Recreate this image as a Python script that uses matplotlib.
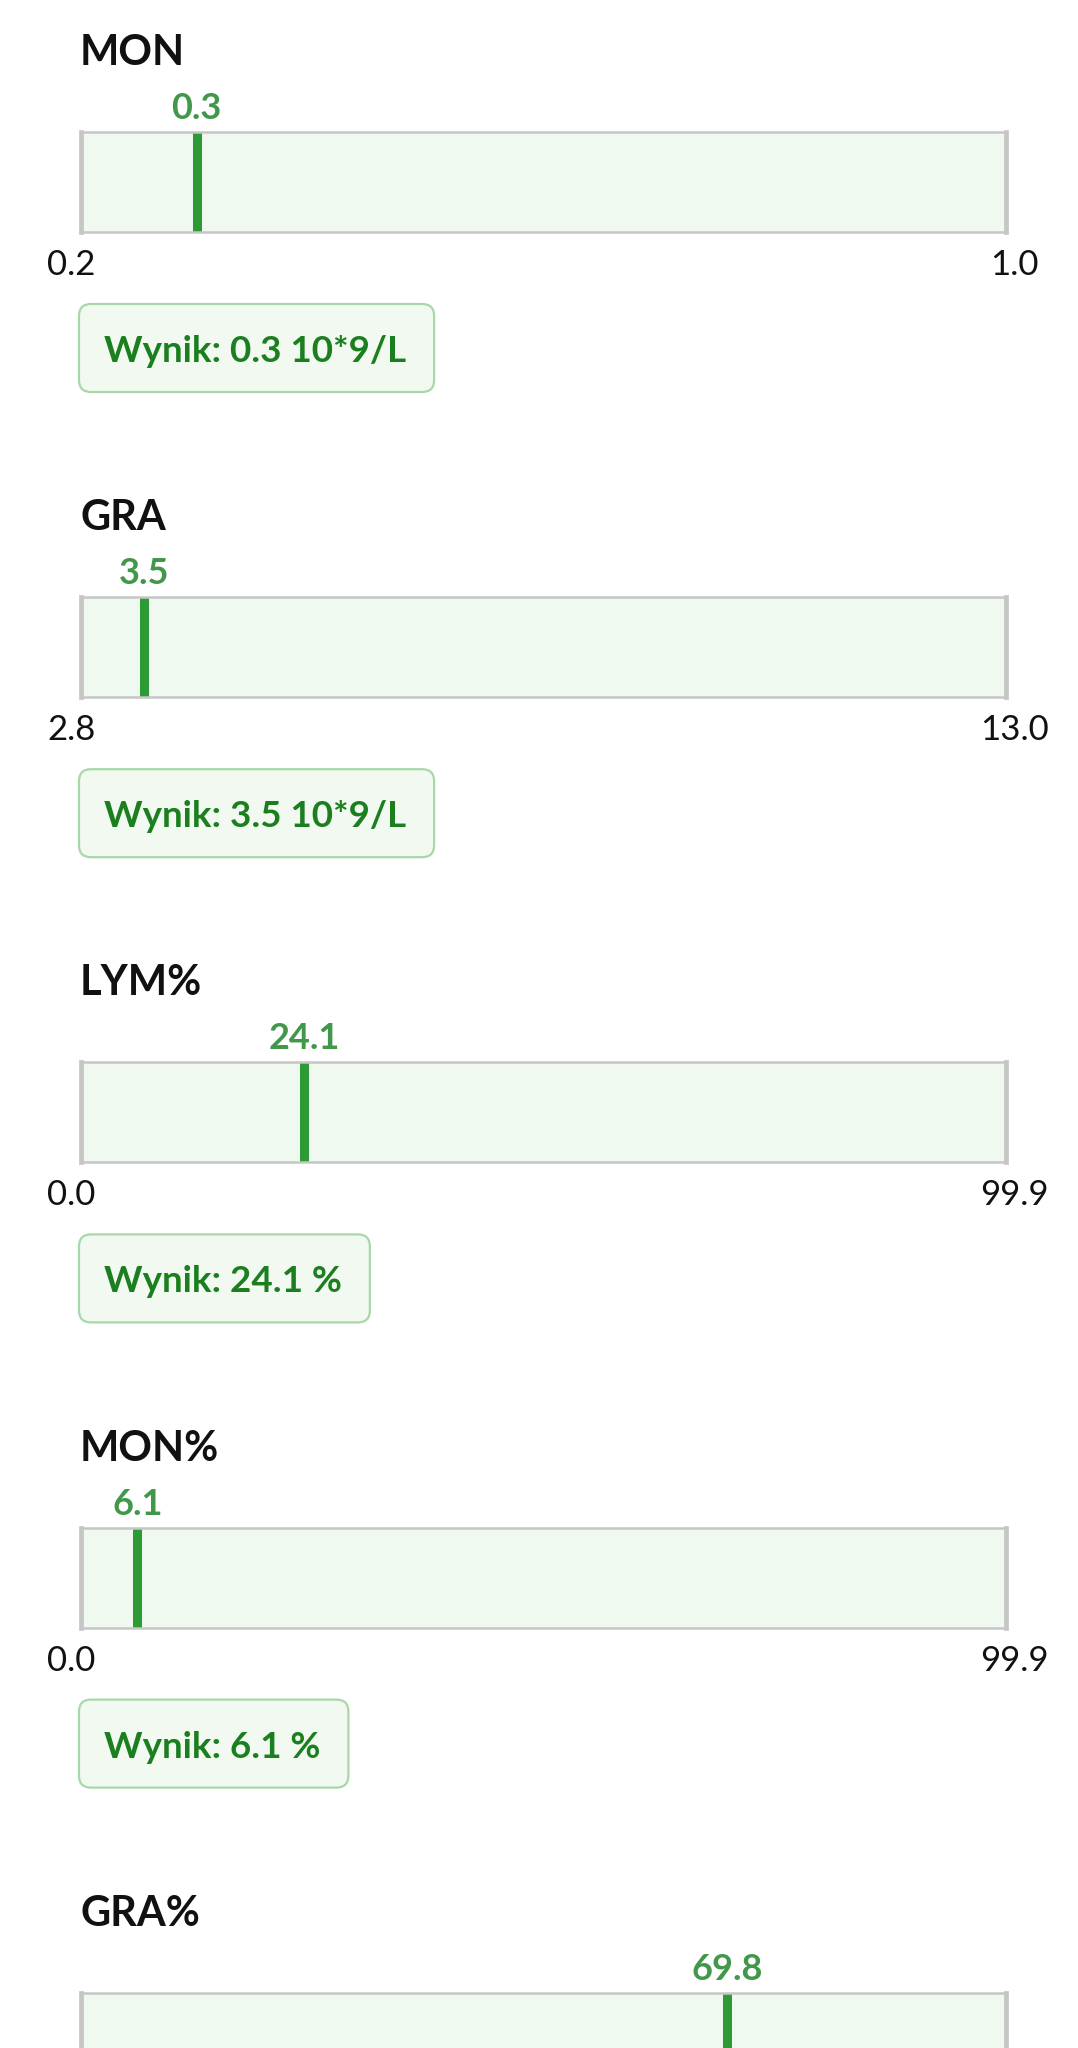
import matplotlib
matplotlib.use('Agg')
import matplotlib.pyplot as plt
from matplotlib.patches import FancyBboxPatch
from matplotlib.transforms import IdentityTransform

plt.rcParams['font.family'] = ['Lato', 'DejaVu Sans']

# dane z wyniku badania
names = ['MON', 'GRA', 'LYM%', 'MON%', 'GRA%']
values = [0.3, 3.5, 24.1, 6.1, 69.8]
lows = [0.2, 2.8, 0.0, 0.0, 0.0]
highs = [1.0, 13.0, 99.9, 99.9, 99.9]
units = ['10*9/L', '10*9/L', '%', '%', '%']

W, H = 1078, 2048
DPI = 100
STEP = 465.2  # odstep miedzy sekcjami (px)

fig = plt.figure(figsize=(W / DPI, H / DPI), dpi=DPI)
fig.patch.set_facecolor('white')


def fx(px):
    return px / W


def fy(py):
    # py liczone od gory
    return 1 - py / H


result_texts = []

for i, (name, val, lo, hi, unit) in enumerate(zip(names, values, lows, highs, units)):
    dy = i * STEP

    # tytul
    fig.text(fx(80), fy(65 + dy), name, fontsize=30, fontweight='bold',
             color='#111111', va='baseline', ha='left')

    # pasek zakresu
    ax = fig.add_axes([fx(81), fy(232 + dy), fx(925), 100 / H])
    ax.set_xlim(lo, hi)
    ax.set_ylim(0, 1)
    ax.set_facecolor('#f0f9f0')
    ax.set_xticks([])
    ax.set_yticks([])
    for side, sp in ax.spines.items():
        sp.set_color('#c6c6c6')
        sp.set_linewidth(3.4 if side in ('left', 'right') else 1.8)

    ax.axvline(val, color='#2e9a36', linewidth=6.5, solid_capstyle='butt')

    # wartosc nad znacznikiem
    ax.annotate(f'{val}', xy=(val, 1), xycoords=('data', 'axes fraction'),
                xytext=(0, 13), textcoords='offset pixels', ha='center',
                va='baseline', fontsize=26, fontweight='bold', color='#42984a',
                annotation_clip=False)

    # ostatnia sekcja jest ucieta u dolu
    if 275 + dy > H:
        continue

    # granice zakresu
    ax.annotate(f'{lo:.1f}', xy=(lo, 0), xycoords=('data', 'axes fraction'),
                xytext=(-9.5, -43), textcoords='offset pixels', ha='center',
                va='baseline', fontsize=25, color='#111111', annotation_clip=False)
    ax.annotate(f'{hi:.1f}', xy=(hi, 0), xycoords=('data', 'axes fraction'),
                xytext=(8.5, -43), textcoords='offset pixels', ha='center',
                va='baseline', fontsize=25, color='#111111', annotation_clip=False)

    # ramka z wynikiem
    t = fig.text(fx(104), fy(362 + dy), f'Wynik: {val} {unit}', fontsize=26.5,
                 fontweight='bold', color='#1b7f1f', va='baseline', ha='left',
                 zorder=5)
    result_texts.append((t, dy))

fig.canvas.draw()
renderer = fig.canvas.get_renderer()
for t, dy in result_texts:
    bb = t.get_window_extent(renderer)
    x0 = 79
    x1 = bb.x1 + 28
    top = H - (304 + dy)
    bottom = H - (392 + dy)
    box = FancyBboxPatch((x0, bottom), x1 - x0, top - bottom,
                         boxstyle='round,pad=0,rounding_size=12',
                         transform=IdentityTransform(), facecolor='#f1f9f1',
                         edgecolor='#a8d8aa', linewidth=1.6, zorder=1)
    fig.add_artist(box)

fig.savefig('out.png', dpi=DPI)
